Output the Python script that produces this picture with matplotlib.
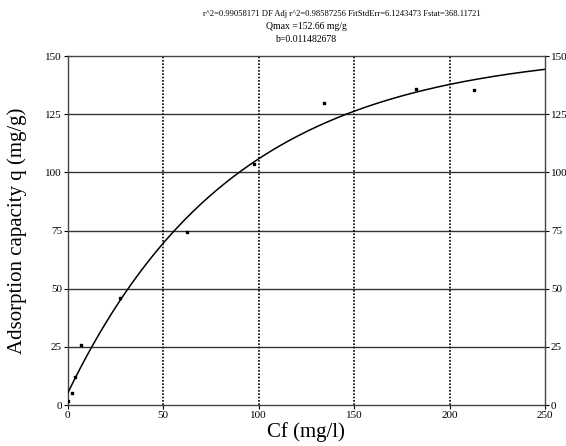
import matplotlib.pyplot as plt
import numpy as np

# measured points
cf = [0.3, 2.1, 4.0, 7.2, 27.4, 62.7, 97.7, 134.3, 182.4, 212.6]
q = [1.7, 5.2, 12.2, 25.7, 45.8, 74.2, 103.6, 130.0, 135.8, 135.2]

# fit parameters (as printed on the chart)
qmax = 152.66
b = 0.011482678
q0 = 5.0

x_ticks = [0, 50, 100, 150, 200, 250]
y_ticks = [0, 25, 50, 75, 100, 125, 150]

title_lines = [
    "r^2=0.99058171 DF Adj r^2=0.98587256 FitStdErr=6.1243473 Fstat=368.11721",
    "Qmax =152.66 mg/g",
    "b=0.011482678",
]

plt.rcParams["font.family"] = ["Liberation Serif", "DejaVu Serif"]

fig = plt.figure(figsize=(5.66, 4.46), dpi=100)
ax = fig.add_axes([0.1194, 0.0919, 0.9634 - 0.1194, 0.8744 - 0.0919])

for yv in y_ticks[1:-1]:
    ax.axhline(yv, color="#333333", lw=1.0, zorder=1)
for xv in x_ticks[1:-1]:
    ax.axvline(xv, color="black", lw=1.2, ls=(0, (1, 1)), zorder=1)

xs = np.linspace(0, 250, 300)
ax.plot(xs, q0 + (qmax - q0) * (1 - np.exp(-b * xs)), color="black", lw=1.1, zorder=3)
ax.scatter(cf, q, s=3, marker="s", color="black", zorder=4)

ax.set_xlim(0, 250)
ax.set_ylim(0, 150)
ax.set_xticks(x_ticks)
ax.set_yticks(y_ticks)
ax.tick_params(axis="both", labelsize=8, length=3, width=0.8, pad=1,
               direction="out", right=True, labelright=True)

for s in ax.spines.values():
    s.set_color("#444444")
    s.set_linewidth(1.0)

ax.set_xlabel("Cf (mg/l)", fontsize=15, labelpad=2)
ax.set_ylabel("Adsorption capacity q (mg/g)", fontsize=15, labelpad=13)

fig.text(0.604, 0.969, title_lines[0], ha="center", va="center", fontsize=6.1)
for i, line in enumerate(title_lines[1:], start=1):
    fig.text(0.5405, 0.969 - i * 0.029, line, ha="center", va="center", fontsize=7)

fig.savefig("out.png", dpi=100)
